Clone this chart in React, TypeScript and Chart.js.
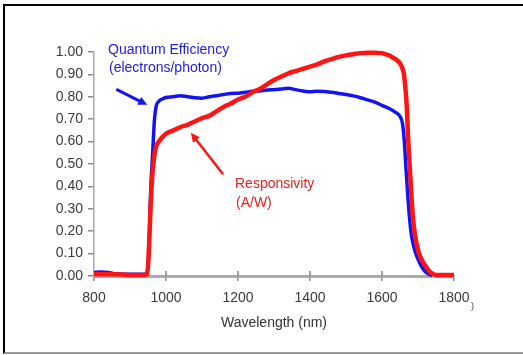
import React, { useEffect, useRef } from "react";
import { Chart, registerables } from "chart.js";

Chart.register(...registerables);

// Quantum efficiency (electrons/photon) — blue
const qeWavelengths = [800, 820, 840, 860, 880, 900, 920, 940, 945, 952, 958, 963, 968, 973, 980, 990, 1000, 1020, 1040, 1060, 1080, 1100, 1120, 1140, 1160, 1180, 1200, 1220, 1240, 1260, 1280, 1300, 1320, 1340, 1360, 1380, 1400, 1420, 1440, 1460, 1480, 1500, 1520, 1540, 1560, 1580, 1600, 1620, 1640, 1650, 1657, 1662, 1667, 1672, 1677, 1682, 1690, 1700, 1710, 1720, 1730, 1740];
const qeValues = [0.016, 0.018, 0.016, 0.01, 0.008, 0.008, 0.008, 0.008, 0.008, 0.1, 0.4, 0.55, 0.7, 0.76, 0.78, 0.79, 0.797, 0.8, 0.805, 0.8, 0.796, 0.794, 0.8, 0.805, 0.81, 0.815, 0.816, 0.82, 0.825, 0.826, 0.83, 0.832, 0.835, 0.838, 0.832, 0.826, 0.822, 0.825, 0.824, 0.82, 0.815, 0.81, 0.804, 0.796, 0.786, 0.776, 0.762, 0.748, 0.728, 0.712, 0.68, 0.6, 0.47, 0.35, 0.25, 0.18, 0.12, 0.075, 0.042, 0.02, 0.008, 0.002];

// Responsivity (A/W) — red
const respWavelengths = [800, 850, 900, 940, 948, 952, 957, 962, 967, 972, 980, 990, 1000, 1020, 1040, 1060, 1080, 1100, 1120, 1140, 1160, 1180, 1200, 1220, 1240, 1260, 1280, 1300, 1320, 1340, 1360, 1380, 1400, 1420, 1440, 1460, 1480, 1500, 1520, 1540, 1560, 1580, 1600, 1610, 1620, 1630, 1640, 1650, 1656, 1661, 1666, 1669, 1673, 1677, 1681, 1686, 1691, 1701, 1711, 1721, 1731, 1741, 1750, 1800];
const respValues = [0.008, 0.008, 0.005, 0.005, 0.008, 0.1, 0.3, 0.45, 0.53, 0.575, 0.6, 0.62, 0.635, 0.65, 0.665, 0.675, 0.69, 0.705, 0.715, 0.735, 0.755, 0.77, 0.788, 0.8, 0.82, 0.835, 0.855, 0.875, 0.89, 0.905, 0.915, 0.925, 0.935, 0.945, 0.958, 0.968, 0.978, 0.985, 0.99, 0.995, 0.997, 0.997, 0.995, 0.99, 0.985, 0.975, 0.965, 0.95, 0.93, 0.9, 0.82, 0.75, 0.6, 0.49, 0.38, 0.26, 0.19, 0.11, 0.07, 0.045, 0.022, 0.01, 0.005, 0.005];

const xMin = 800;
const xMax = 1800;
const xStep = 200;
const yMin = 0;
const yMax = 1;
const yStep = 0.1;

// Annotation arrows in data coordinates: [tailX, tailY, tipX, tipY]
const qeArrow = [865, 0.831, 948, 0.764];
const respArrow = [1157, 0.458, 1069, 0.639];

const BLUE = "#1414f0";
const RED = "#ff1414";

function drawArrow(ctx: CanvasRenderingContext2D, x1: number, y1: number, x2: number, y2: number, color: string, width: number, head: number) {
  const ang = Math.atan2(y2 - y1, x2 - x1);
  const bx = x2 - Math.cos(ang) * head * 0.9;
  const by = y2 - Math.sin(ang) * head * 0.9;
  ctx.save();
  ctx.strokeStyle = color;
  ctx.fillStyle = color;
  ctx.lineWidth = width;
  ctx.lineCap = "round";
  ctx.beginPath();
  ctx.moveTo(x1, y1);
  ctx.lineTo(bx, by);
  ctx.stroke();
  ctx.beginPath();
  ctx.moveTo(x2, y2);
  ctx.lineTo(x2 - Math.cos(ang - 0.45) * head, y2 - Math.sin(ang - 0.45) * head);
  ctx.lineTo(x2 - Math.cos(ang + 0.45) * head, y2 - Math.sin(ang + 0.45) * head);
  ctx.closePath();
  ctx.fill();
  ctx.restore();
}

const extrasPlugin = {
  id: "extras",
  afterDraw(chart: any) {
    const ctx = chart.ctx as CanvasRenderingContext2D;
    const xs = chart.scales.x;
    const ys = chart.scales.y;
    // upward stubs on x ticks
    ctx.save();
    ctx.strokeStyle = "#888";
    ctx.lineWidth = 1.5;
    for (let v = xMin + xStep; v < xMax; v += xStep) {
      const px = xs.getPixelForValue(v);
      ctx.beginPath();
      ctx.moveTo(px, ys.bottom);
      ctx.lineTo(px, ys.bottom - 5);
      ctx.stroke();
    }
    ctx.restore();
    drawArrow(ctx, xs.getPixelForValue(qeArrow[0]), ys.getPixelForValue(qeArrow[1]), xs.getPixelForValue(qeArrow[2]), ys.getPixelForValue(qeArrow[3]), BLUE, 3, 10);
    drawArrow(ctx, xs.getPixelForValue(respArrow[0]), ys.getPixelForValue(respArrow[1]), xs.getPixelForValue(respArrow[2]), ys.getPixelForValue(respArrow[3]), RED, 2.5, 10);
  },
};

export default function App() {
  const ref = useRef<HTMLCanvasElement | null>(null);

  useEffect(() => {
    if (!ref.current) return;
    Chart.defaults.font.family = "'Liberation Sans', Arial, sans-serif";
    const chart = new Chart(ref.current, {
      type: "line",
      data: {
        datasets: [
          {
            label: "Responsivity (A/W)",
            data: respWavelengths.map((x, i) => ({ x, y: respValues[i] })),
            borderColor: RED,
            borderWidth: 4.5,
            pointRadius: 0,
            cubicInterpolationMode: "monotone",
            clip: 10,
          },
          {
            label: "Quantum Efficiency (electrons/photon)",
            data: qeWavelengths.map((x, i) => ({ x, y: qeValues[i] })),
            borderColor: BLUE,
            borderWidth: 3.5,
            pointRadius: 0,
            cubicInterpolationMode: "monotone",
            clip: 10,
          },
        ],
      },
      options: {
        animation: false,
        responsive: false,
        devicePixelRatio: 1,
        layout: { padding: { left: 0, top: 52, right: 69, bottom: 0 } },
        plugins: { legend: { display: false }, tooltip: { enabled: false } },
        scales: {
          x: {
            type: "linear",
            min: xMin,
            max: xMax,
            afterFit: (s: any) => { s.height = 79; },
            ticks: { stepSize: xStep, color: "#3a3a3a", font: { size: 14 }, padding: 9, maxRotation: 0, callback: (v: any) => String(v) },
            grid: { drawOnChartArea: false, tickLength: 5, color: "#888", lineWidth: 1.5 },
            border: { color: "#aaa", width: 3 },
            title: { display: true, text: "Wavelength (nm)", color: "#333", font: { size: 14 }, padding: { top: 0, bottom: 23 } },
          },
          y: {
            type: "linear",
            min: yMin,
            max: yMax,
            afterFit: (s: any) => { s.width = 94; },
            ticks: { stepSize: yStep, color: "#3a3a3a", font: { size: 14 }, padding: 5, callback: (v: any) => Number(v).toFixed(2) },
            grid: { drawOnChartArea: false, tickLength: 6, color: "#888", lineWidth: 1.5 },
            border: { color: "#aaa", width: 1.5 },
          },
        },
      },
      plugins: [extrasPlugin],
    } as any);
    return () => chart.destroy();
  }, []);

  const txt = (color: string): React.CSSProperties => ({
    position: "absolute",
    fontFamily: "'Liberation Sans', Arial, sans-serif",
    fontSize: 14,
    lineHeight: "16px",
    color,
    whiteSpace: "nowrap",
  });

  return (
    <div style={{ position: "fixed", left: 0, top: 0, width: 523, height: 355, background: "#fff", overflow: "hidden" }}>
      <div style={{ position: "absolute", left: 3, top: 4, width: 600, height: 350, boxSizing: "border-box", borderLeft: "2px solid #000", borderTop: "2px solid #000", borderBottom: "2px solid #999" }} />
      <canvas ref={ref} width={523} height={355} style={{ position: "absolute", left: 0, top: 0, width: 523, height: 355 }} />
      <div style={{ ...txt("#2020e0"), left: 108, top: 41 }}>Quantum Efficiency</div>
      <div style={{ ...txt("#2020e0"), left: 109, top: 59 }}>(electrons/photon)</div>
      <div style={{ ...txt("#e82020"), left: 235, top: 175 }}>Responsivity</div>
      <div style={{ ...txt("#e82020"), left: 236, top: 194 }}>(A/W)</div>
      <div style={{ ...txt("#444"), left: 471, top: 298, fontSize: 9 }}>)</div>
    </div>
  );
}
